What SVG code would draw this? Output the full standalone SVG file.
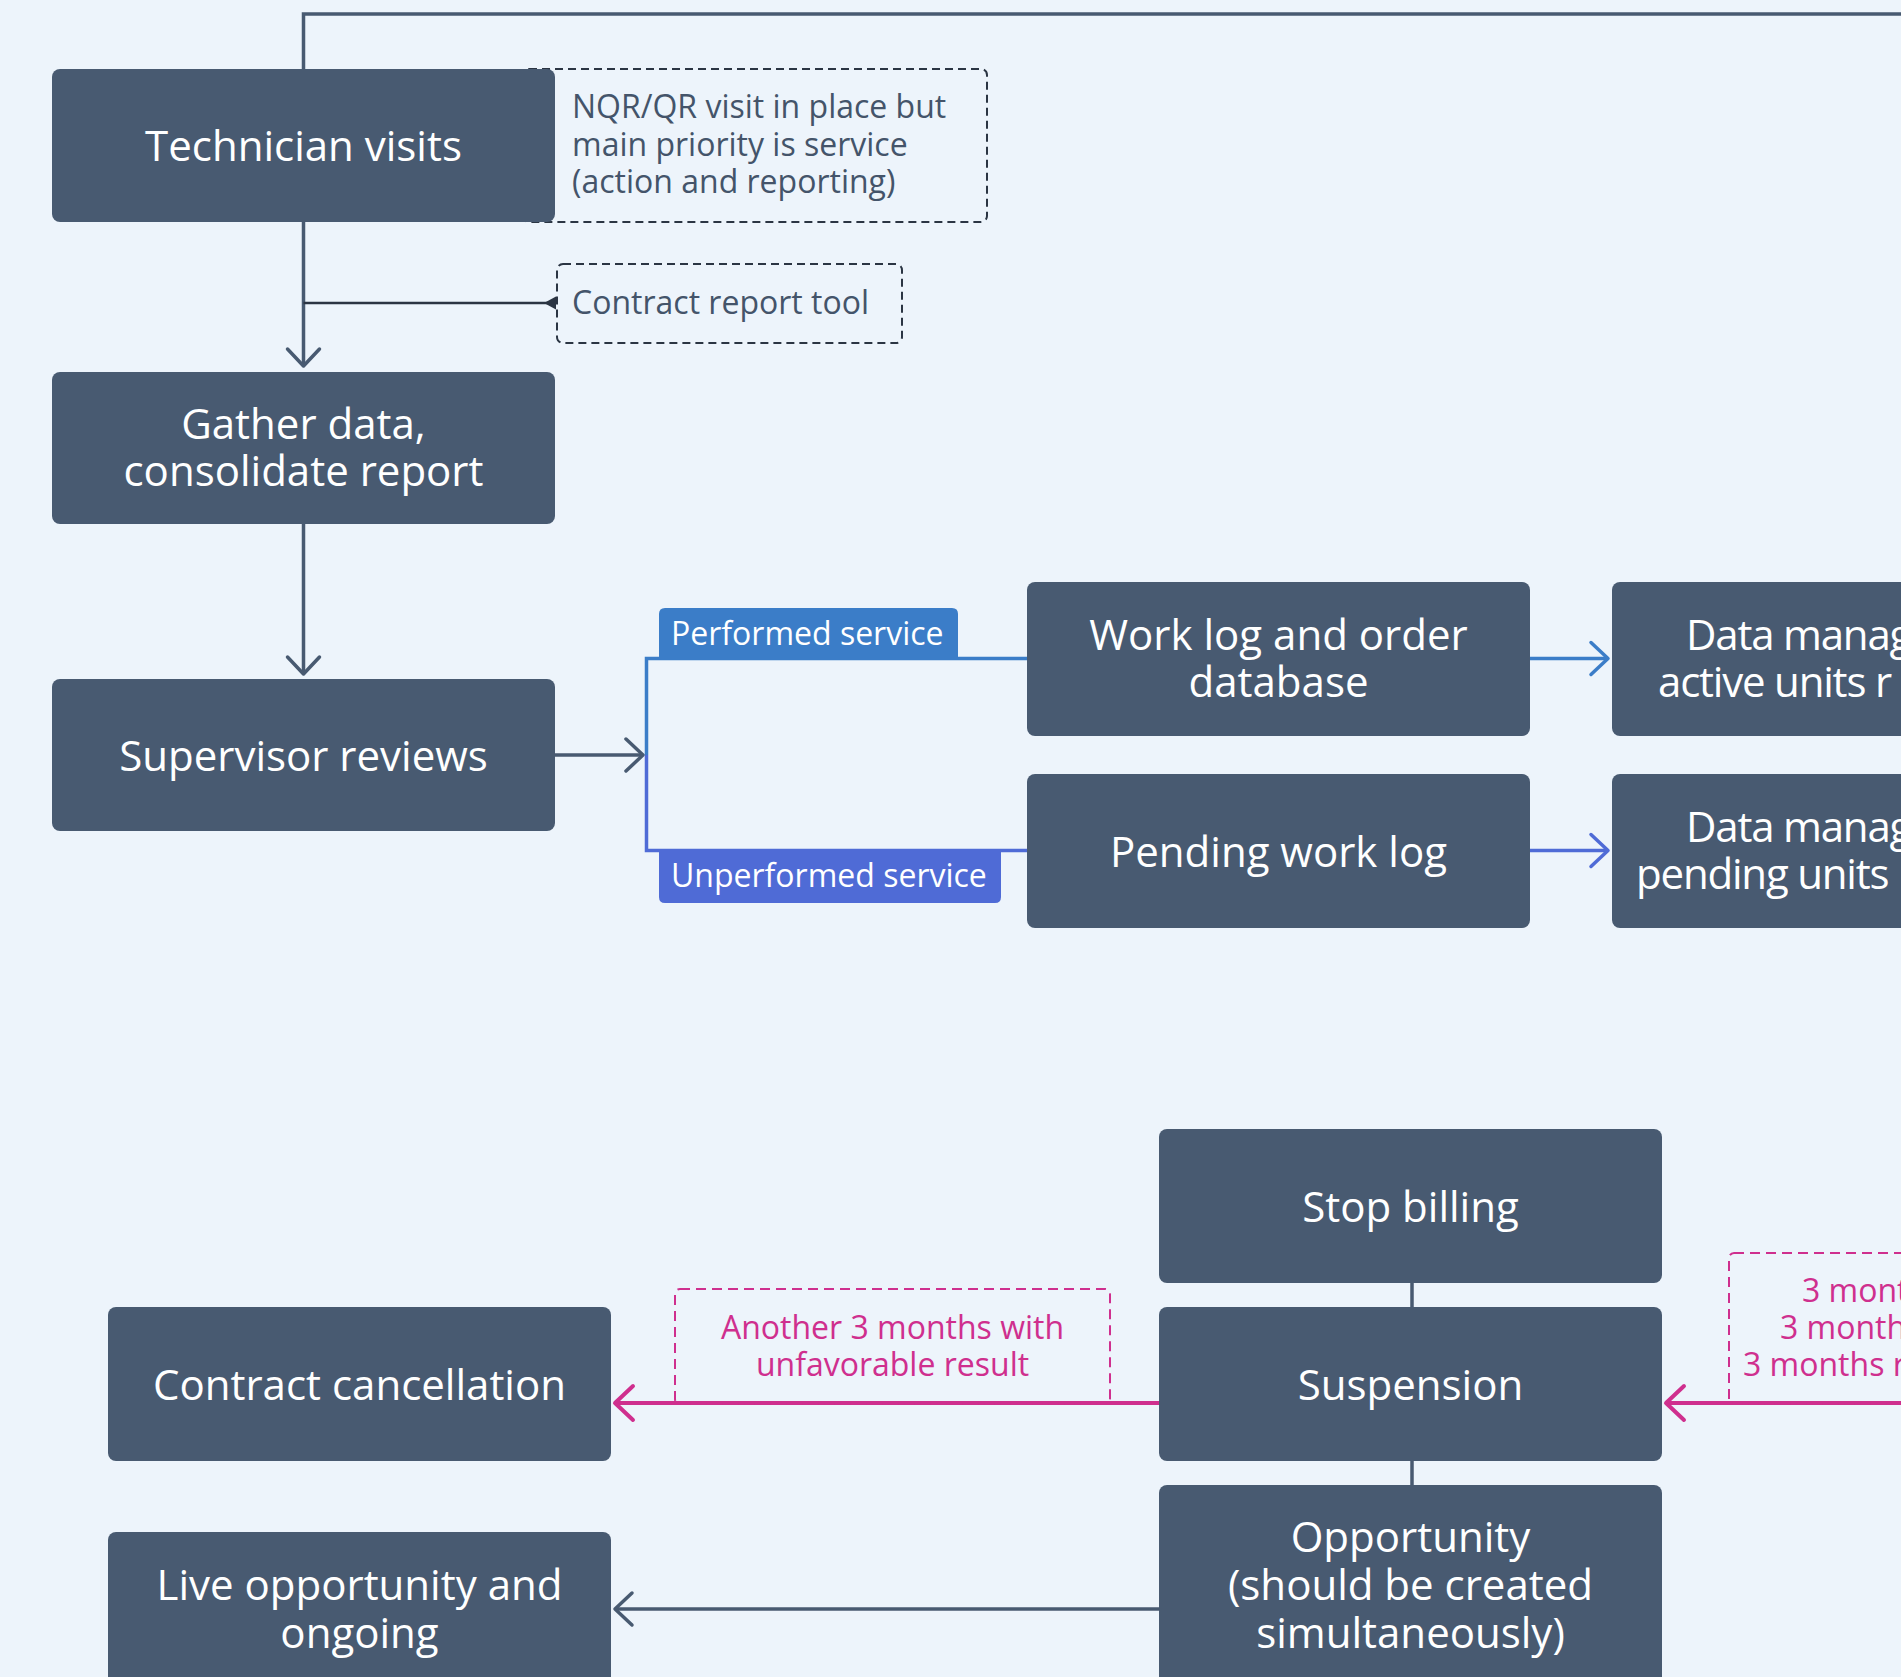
<svg xmlns="http://www.w3.org/2000/svg" width="1901" height="1677" viewBox="0 0 1901 1677">
  <defs>
    <style>
      .node { fill: #485a71; }
      .title { font-family: "Open Sans", "Liberation Sans", sans-serif; font-size: 42px; font-weight: 500; fill: #ffffff; text-anchor: middle; }
      .titleL { font-family: "Open Sans", "Liberation Sans", sans-serif; font-size: 42px; font-weight: 500; fill: #ffffff; letter-spacing: -1.2px; }
      .note { font-family: "Open Sans", "Liberation Sans", sans-serif; font-size: 32px; font-weight: 500; fill: #44546a; }
      .pink { font-family: "Open Sans", "Liberation Sans", sans-serif; font-size: 32px; font-weight: 500; fill: #cf2f8e; }
      .lbl { font-family: "Open Sans", "Liberation Sans", sans-serif; font-size: 32px; font-weight: 500; fill: #ffffff; }
      .dashDark { fill: none; stroke: #2b3543; stroke-width: 2; stroke-dasharray: 8 5; }
      .dashPink { fill: none; stroke: #cf2f8e; stroke-width: 2; stroke-dasharray: 10 6; }
      .conn { fill: none; stroke: #485a71; stroke-width: 3.5; }
      .connBlue { fill: none; stroke: #3b7dc8; stroke-width: 3.5; }
      .connViolet { fill: none; stroke: #4f6bd6; stroke-width: 3.5; }
      .connPink { fill: none; stroke: #cf2f8e; stroke-width: 4; }
    </style>
    <marker id="arrGray" markerUnits="userSpaceOnUse" markerWidth="40" markerHeight="40" refX="0" refY="0" orient="auto" overflow="visible">
      <path d="M-17,-16 L0,0 L-17,16" fill="none" stroke="#485a71" stroke-width="3.5" stroke-linecap="round" stroke-linejoin="round"/>
    </marker>
    <marker id="arrBlue" markerUnits="userSpaceOnUse" markerWidth="40" markerHeight="40" refX="0" refY="0" orient="auto" overflow="visible">
      <path d="M-17,-16 L0,0 L-17,16" fill="none" stroke="#3b7dc8" stroke-width="3.5" stroke-linecap="round" stroke-linejoin="round"/>
    </marker>
    <marker id="arrViolet" markerUnits="userSpaceOnUse" markerWidth="40" markerHeight="40" refX="0" refY="0" orient="auto" overflow="visible">
      <path d="M-17,-16 L0,0 L-17,16" fill="none" stroke="#4f6bd6" stroke-width="3.5" stroke-linecap="round" stroke-linejoin="round"/>
    </marker>
    <marker id="arrPink" markerUnits="userSpaceOnUse" markerWidth="40" markerHeight="40" refX="0" refY="0" orient="auto" overflow="visible">
      <path d="M-18,-17 L0,0 L-18,17" fill="none" stroke="#cf2f8e" stroke-width="4" stroke-linecap="round" stroke-linejoin="round"/>
    </marker>
  </defs>

  <rect x="0" y="0" width="1901" height="1677" fill="#edf4fb"/>

  <g id="connectors">
    <path class="conn" d="M303.5,69 V14 H1901"/>
    <path class="conn" d="M303.5,222 V366" marker-end="url(#arrGray)"/>
    <path d="M303.5,303 H552" fill="none" stroke="#2b3543" stroke-width="2.5"/>
    <polygon points="544,303 556,296.5 556,309.5" fill="#2b3543"/>
    <path class="conn" d="M303.5,524 V674" marker-end="url(#arrGray)"/>
    <path class="conn" d="M555,755 H643" marker-end="url(#arrGray)"/>
    <path class="connBlue" d="M1027,658.5 H646.5 V755"/>
    <path class="connViolet" d="M646.5,755 V850.5 H1027"/>
    <path class="connBlue" d="M1530,658.5 H1608" marker-end="url(#arrBlue)"/>
    <path class="connViolet" d="M1530,850.5 H1608" marker-end="url(#arrViolet)"/>
    <path class="conn" d="M1412,1283 V1307"/>
    <path class="conn" d="M1412,1461 V1485"/>
    <path class="connPink" d="M1159,1403 H615" marker-end="url(#arrPink)"/>
    <path class="connPink" d="M1901,1403 H1666" marker-end="url(#arrPink)"/>
    <path class="conn" d="M1159,1609 H615" marker-end="url(#arrGray)"/>
  </g>

  <g id="note-nqr">
    <rect class="dashDark" x="523" y="69" width="464" height="153" rx="6"/>
    <text class="note" x="572" y="118">NQR/QR visit in place but</text>
    <text class="note" x="572" y="156">main priority is service</text>
    <text class="note" x="572" y="193">(action and reporting)</text>
  </g>

  <g id="node-technician">
    <rect class="node" x="52" y="69" width="503" height="153" rx="8"/>
    <text class="title" x="303.5" y="161">Technician visits</text>
  </g>

  <g id="note-contract-tool">
    <rect class="dashDark" x="557" y="264" width="345" height="79" rx="6"/>
    <text class="note" x="572" y="314">Contract report tool</text>
  </g>

  <g id="node-gather">
    <rect class="node" x="52" y="372" width="503" height="152" rx="8"/>
    <text class="title" x="303.5" y="439">Gather data,</text>
    <text class="title" x="303.5" y="486">consolidate report</text>
  </g>

  <g id="node-supervisor">
    <rect class="node" x="52" y="679" width="503" height="152" rx="8"/>
    <text class="title" x="303.5" y="771">Supervisor reviews</text>
  </g>

  <g id="label-performed">
    <path d="M659,657 V614 Q659,608 665,608 H952 Q958,608 958,614 V657 Z" fill="#3b7dc8"/>
    <text class="lbl" x="671" y="645">Performed service</text>
  </g>

  <g id="label-unperformed">
    <path d="M659,852 H1001 V897 Q1001,903 995,903 H665 Q659,903 659,897 Z" fill="#4f6bd6"/>
    <text class="lbl" x="671" y="887">Unperformed service</text>
  </g>

  <g id="node-worklog">
    <rect class="node" x="1027" y="582" width="503" height="154" rx="8"/>
    <text class="title" x="1278.5" y="650">Work log and order</text>
    <text class="title" x="1278.5" y="697">database</text>
  </g>

  <g id="node-pending">
    <rect class="node" x="1027" y="774" width="503" height="154" rx="8"/>
    <text class="title" x="1278.5" y="867">Pending work log</text>
  </g>

  <g id="node-data-active">
    <rect class="node" x="1612" y="582" width="503" height="154" rx="8"/>
    <text class="titleL" x="1686" y="650">Data management</text>
    <text class="titleL" x="1658" y="697">active units r</text>
  </g>

  <g id="node-data-pending">
    <rect class="node" x="1612" y="774" width="503" height="154" rx="8"/>
    <text class="titleL" x="1686" y="842">Data management</text>
    <text class="titleL" x="1636" y="889">pending units</text>
  </g>

  <g id="node-stop-billing">
    <rect class="node" x="1159" y="1129" width="503" height="154" rx="8"/>
    <text class="title" x="1410.5" y="1222">Stop billing</text>
  </g>

  <g id="node-suspension">
    <rect class="node" x="1159" y="1307" width="503" height="154" rx="8"/>
    <text class="title" x="1410.5" y="1400">Suspension</text>
  </g>

  <g id="node-opportunity">
    <rect class="node" x="1159" y="1485" width="503" height="220" rx="8"/>
    <text class="title" x="1410.5" y="1552">Opportunity</text>
    <text class="title" x="1410.5" y="1600">(should be created</text>
    <text class="title" x="1410.5" y="1648">simultaneously)</text>
  </g>

  <g id="node-cancellation">
    <rect class="node" x="108" y="1307" width="503" height="154" rx="8"/>
    <text class="title" x="359.5" y="1400">Contract cancellation</text>
  </g>

  <g id="node-live">
    <rect class="node" x="108" y="1532" width="503" height="200" rx="8"/>
    <text class="title" x="359.5" y="1600">Live opportunity and</text>
    <text class="title" x="359.5" y="1648">ongoing</text>
  </g>

  <g id="note-another">
    <rect class="dashPink" x="675" y="1289" width="435" height="115" rx="5"/>
    <text class="pink" x="892.5" y="1339" text-anchor="middle">Another 3 months with</text>
    <text class="pink" x="892.5" y="1376" text-anchor="middle">unfavorable result</text>
  </g>

  <g id="note-three-months">
    <rect class="dashPink" x="1729" y="1253" width="400" height="151" rx="5"/>
    <text class="pink" x="1802" y="1302">3 mont</text>
    <text class="pink" x="1780" y="1339">3 month</text>
    <text class="pink" x="1743" y="1376">3 months r</text>
  </g>
</svg>
